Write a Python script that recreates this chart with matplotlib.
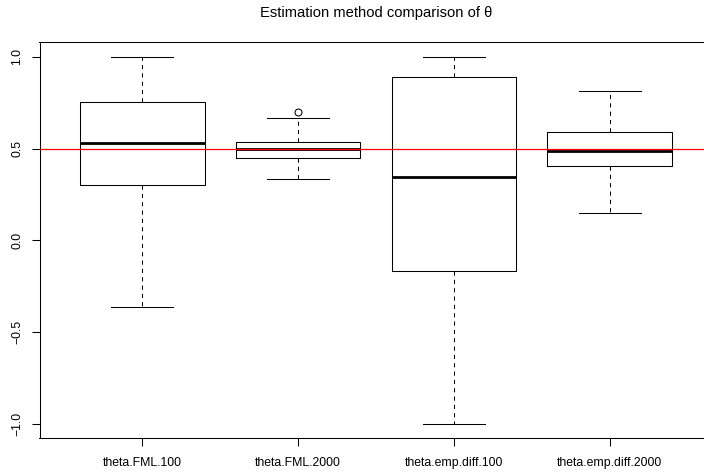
import matplotlib
matplotlib.use("Agg")
import matplotlib.pyplot as plt

plt.rcParams["font.family"] = ["Liberation Sans", "DejaVu Sans"]

# summary stats
labels = ["theta.FML.100", "theta.FML.2000", "theta.emp.diff.100", "theta.emp.diff.2000"]
whisker_low = [-0.363, 0.333, -1.0, 0.150]
q1 = [0.304, 0.449, -0.165, 0.405]
median = [0.532, 0.498, 0.347, 0.487]
q3 = [0.757, 0.538, 0.893, 0.589]
whisker_high = [1.0, 0.666, 1.0, 0.817]
outliers = [[], [0.699], [], []]
true_theta = 0.5

stats = []
for i in range(len(labels)):
    stats.append({
        "label": labels[i],
        "whislo": whisker_low[i],
        "q1": q1[i],
        "med": median[i],
        "q3": q3[i],
        "whishi": whisker_high[i],
        "fliers": outliers[i],
    })

fig = plt.figure(figsize=(7.04, 4.72), dpi=100)
ax = fig.add_axes([39.5 / 704, 33.7 / 472, 673 / 704, 396 / 472])

ax.bxp(
    stats,
    positions=[1, 2, 3, 4],
    widths=0.8,
    showfliers=True,
    boxprops=dict(color="black", linewidth=0.75),
    medianprops=dict(color="black", linewidth=2.0, solid_capstyle="butt"),
    whiskerprops=dict(color="black", linewidth=0.75, linestyle=(0, (4, 4))),
    capprops=dict(color="black", linewidth=0.75),
    capwidths=0.4,
    flierprops=dict(marker="o", markerfacecolor="none", markeredgecolor="black",
                    markersize=5, markeredgewidth=0.75),
)

# true value
ax.axhline(true_theta, color="#ff0000", linewidth=0.9, zorder=10)

ax.set_xlim(0.34, 4.66)
ax.set_ylim(-1.08, 1.08)
ax.set_yticks([-1.0, -0.5, 0.0, 0.5, 1.0])
ax.set_yticklabels(["\u22121.0", "\u22120.5", "0.0", "0.5", "1.0"], rotation=90, va="center")
ax.tick_params(direction="out", length=5.5, width=0.75, labelsize=8.8)
ax.tick_params(axis="x", pad=8)
ax.tick_params(axis="y", pad=6)
for s in ax.spines.values():
    s.set_linewidth(0.75)

fig.text(376 / 704, 1 - 13 / 472, "Estimation method comparison of \u03b8",
         ha="center", va="center", fontsize=10.6)

fig.savefig("out.png", dpi=100)
